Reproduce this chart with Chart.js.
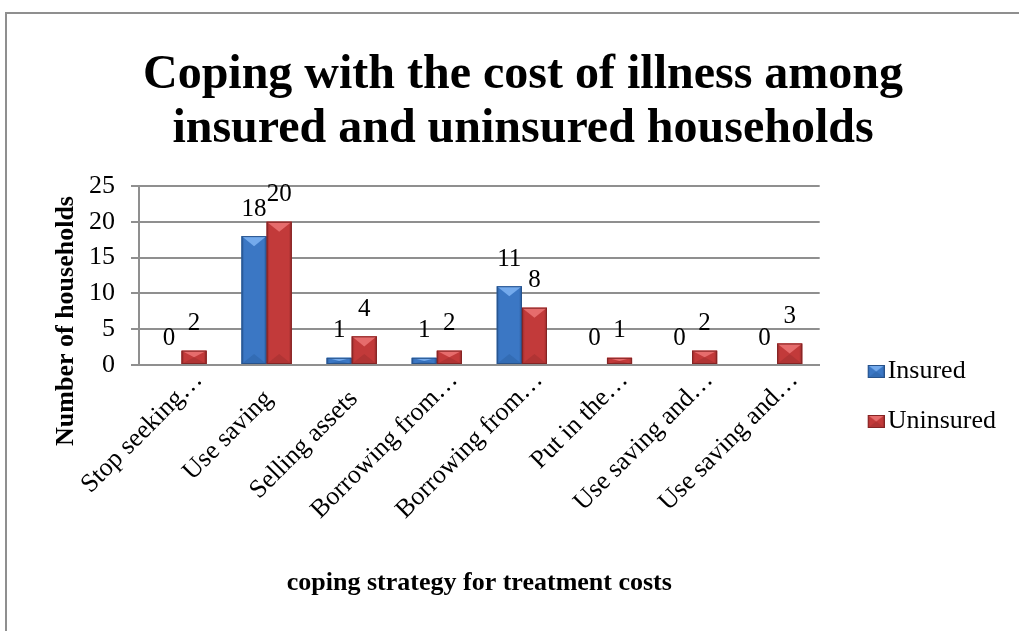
<!DOCTYPE html>
<html>
<head>
<meta charset="utf-8">
<script src="https://cdn.jsdelivr.net/npm/chart.js@4/dist/chart.umd.min.js"></script>
<style>
  html, body { margin: 0; padding: 0; background: #fff; }
  #wrap { position: relative; width: 1019px; height: 631px; overflow: hidden; }
  #frame {
    position: absolute; left: 5px; top: 12px; width: 1100px; height: 700px;
    border-left: 2px solid #8f8f8f; border-top: 2px solid #8f8f8f;
  }
  canvas { position: absolute; left: 0; top: 0; }
</style>
</head>
<body>
<div id="wrap">
  <canvas id="chart" width="1019" height="631"></canvas>
  <div id="frame"></div>
</div>
<script>
/* =========================================================
   DATA
========================================================= */
const strategies = [
  'Stop seeking…', 'Use saving', 'Selling assets', 'Borrowing from…',
  'Borrowing from…', 'Put in the…', 'Use saving and…', 'Use saving and…'
];
const insured   = [0, 18, 1, 1, 11, 0, 0, 0];
const uninsured = [2, 20, 4, 2, 8, 1, 2, 3];
const seriesNames = ['Insured', 'Uninsured'];
const yTicks = [0, 5, 10, 15, 20, 25];

const SERIF = "'Liberation Serif', 'Times New Roman', serif";

const palettes = [
  { base: '#3b77c4', dark: '#2b5d9f', light: '#74aaec', shade: '#336cb4', edge: '#27528a' },
  { base: '#c23a3a', dark: '#952a2a', light: '#e66c6c', shade: '#b03434', edge: '#842424' }
];

/* =========================================================
   BEVELLED BAR
========================================================= */
function paintBar(ctx, pal, l, top, w, h) {
  const r = l + w, cx = l + w / 2, bottom = top + h;
  const d = Math.min(w * 0.4, h * 0.5);

  const g = ctx.createLinearGradient(l, 0, r, 0);
  g.addColorStop(0, pal.dark);
  g.addColorStop(0.12, pal.base);
  g.addColorStop(0.88, pal.base);
  g.addColorStop(1, pal.dark);
  ctx.fillStyle = g;
  ctx.fillRect(l, top, w, h);

  // lower facet, a bit darker
  ctx.fillStyle = pal.shade;
  ctx.beginPath();
  ctx.moveTo(l, bottom); ctx.lineTo(r, bottom); ctx.lineTo(cx, bottom - d);
  ctx.closePath(); ctx.fill();

  // upper facet, lighter
  ctx.fillStyle = pal.light;
  ctx.beginPath();
  ctx.moveTo(l, top); ctx.lineTo(r, top); ctx.lineTo(cx, top + d);
  ctx.closePath(); ctx.fill();

  ctx.strokeStyle = pal.edge;
  ctx.lineWidth = 1;
  ctx.strokeRect(l + 0.5, top + 0.5, w - 1, Math.max(h - 1, 0.5));
}

// legend swatch: transparent on the left, box on the right
function swatch(pal) {
  const c = document.createElement('canvas');
  c.width = 51; c.height = 13;
  paintBar(c.getContext('2d'), pal, 34, 0, 17, 13);
  return c;
}
const swatches = palettes.map(swatch);

const bevelBars = {
  id: 'bevelBars',
  afterDatasetsDraw(chart) {
    const ctx = chart.ctx;
    chart.data.datasets.forEach((ds, i) => {
      chart.getDatasetMeta(i).data.forEach((el, j) => {
        if (!ds.data[j]) return;
        const { x, y, base, width } = el.getProps(['x', 'y', 'base', 'width'], true);
        ctx.save();
        paintBar(ctx, palettes[i], x - width / 2, y, width, base - y);
        ctx.restore();
      });
    });
  }
};

/* =========================================================
   TEXT: VALUES, CATEGORY LABELS, Y TITLE
========================================================= */
const valueLabels = {
  id: 'valueLabels',
  afterDatasetsDraw(chart) {
    const ctx = chart.ctx;
    ctx.save();
    ctx.font = `25px ${SERIF}`;
    ctx.fillStyle = '#000';
    ctx.textAlign = 'center';
    ctx.textBaseline = 'middle';
    chart.data.datasets.forEach((ds, i) => {
      chart.getDatasetMeta(i).data.forEach((el, j) => {
        ctx.fillText(String(ds.data[j]), el.x, el.y - 27);
      });
    });
    ctx.restore();
  }
};

// category names at 45°, cut names sit a little further out
const slantedLabels = {
  id: 'slantedLabels',
  afterDraw(chart) {
    const sx = chart.scales.x;
    const ctx = chart.ctx;
    ctx.save();
    ctx.font = `26px ${SERIF}`;
    ctx.fillStyle = '#000';
    ctx.textAlign = 'right';
    ctx.textBaseline = 'middle';
    strategies.forEach((lbl, i) => {
      const cut = lbl.endsWith('…');
      ctx.save();
      ctx.translate(sx.getPixelForTick(i) + (cut ? 17 : 2), sx.top + (cut ? 11 : 30));
      ctx.rotate(-Math.PI / 4);
      ctx.fillText(lbl, 0, 0);
      ctx.restore();
    });
    ctx.restore();
  }
};

const yTitle = {
  id: 'yTitle',
  afterDraw(chart) {
    const ctx = chart.ctx;
    ctx.save();
    ctx.translate(66, 321);
    ctx.rotate(-Math.PI / 2);
    ctx.font = `bold 26px ${SERIF}`;
    ctx.fillStyle = '#000';
    ctx.textAlign = 'center';
    ctx.textBaseline = 'middle';
    ctx.fillText('Number of households', 0, 0);
    ctx.restore();
  }
};

// legend sits lower than the default centring
const legendDrop = {
  id: 'legendDrop',
  afterLayout(chart) {
    chart.legend.top += 91;
    chart.legend.bottom += 91;
  }
};

/* =========================================================
   CHART
========================================================= */
new Chart(document.getElementById('chart'), {
  type: 'bar',
  data: {
    labels: strategies,
    datasets: [
      { label: seriesNames[0], data: insured, backgroundColor: palettes[0].base },
      { label: seriesNames[1], data: uninsured, backgroundColor: palettes[1].base }
    ]
  },
  options: {
    responsive: false,
    animation: false,
    categoryPercentage: 0.59,
    barPercentage: 1,
    layout: { padding: { left: 40, right: 13, top: 0, bottom: 20 } },
    plugins: {
      tooltip: { enabled: false },
      title: {
        display: true,
        text: ['Coping with the cost of illness among', 'insured and uninsured households'],
        color: '#000',
        font: { family: SERIF, size: 48, weight: 'bold', lineHeight: 1.125 },
        padding: { top: 49, bottom: 29 }
      },
      legend: {
        position: 'right',
        labels: {
          color: '#000',
          font: { family: SERIF, size: 26 },
          usePointStyle: true,
          pointStyleWidth: 31,
          boxHeight: 13,
          padding: 24,
          generateLabels: chart => chart.data.datasets.map((ds, i) => ({
            text: ds.label,
            pointStyle: swatches[i],
            fillStyle: ds.backgroundColor,
            strokeStyle: 'transparent',
            lineWidth: 0,
            hidden: false,
            datasetIndex: i,
            fontColor: '#000'
          }))
        }
      }
    },
    scales: {
      x: {
        afterFit: s => { s.height = 246; },
        grid: { display: false, drawTicks: false },
        border: { color: '#8f8f8f', width: 2 },
        ticks: { display: false },
        title: {
          display: true,
          text: 'coping strategy for treatment costs',
          color: '#000',
          font: { family: SERIF, size: 26, weight: 'bold' },
          padding: { top: 0, bottom: 12 }
        }
      },
      y: {
        min: 0,
        max: 25,
        afterFit: s => { s.width = 99; },
        afterBuildTicks: s => { s.ticks = yTicks.map(v => ({ value: v })); },
        grid: { color: '#8f8f8f', lineWidth: 2, tickLength: 8 },
        border: { color: '#8f8f8f', width: 2 },
        ticks: {
          color: '#000',
          font: { family: SERIF, size: 26 },
          padding: 16
        }
      }
    }
  },
  plugins: [bevelBars, valueLabels, slantedLabels, yTitle, legendDrop]
});
</script>
</body>
</html>
